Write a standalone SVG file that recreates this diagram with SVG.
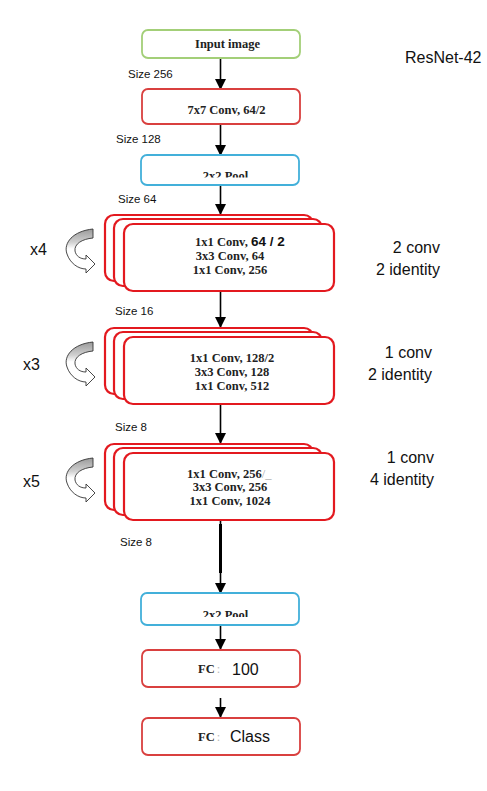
<svg xmlns="http://www.w3.org/2000/svg" width="487" height="791" viewBox="0 0 487 791">
<style>
.box{fill:#fff;stroke-width:1.8}
.red{stroke:#d9403f}
.bred{stroke:#e3191f;stroke-width:2.2}
.green{stroke:#a3cf78}
.blue{stroke:#43b0da}
.bt{font-family:"Liberation Serif","Times New Roman",serif;font-weight:bold;font-size:12.5px;fill:#222}
.st{font-family:"Liberation Sans",Arial,sans-serif;font-size:11.5px;fill:#111}
.lt{font-family:"Liberation Sans",Arial,sans-serif;font-size:16px;fill:#111}
.conn{stroke:#000;stroke-width:1.6;fill:none}
.icon{stroke:#333;stroke-width:0.9;fill:url(#g)}
</style>
<defs>
<marker id="ah" markerUnits="userSpaceOnUse" markerWidth="11" markerHeight="11" refX="10" refY="5.5" orient="auto">
<path d="M0,0 L11,5.5 L0,11 z" fill="#000"/>
</marker>
<linearGradient id="g" x1="0" y1="0" x2="0" y2="1">
<stop offset="0" stop-color="#9a9a9a"/>
<stop offset="0.3" stop-color="#d0d0d0"/>
<stop offset="0.45" stop-color="#ffffff"/>
<stop offset="1" stop-color="#ffffff"/>
</linearGradient>
<clipPath id="c1"><rect x="140" y="150" width="160" height="27.5"/></clipPath>
<clipPath id="c2"><rect x="140" y="590" width="160" height="27"/></clipPath>
<g id="stack">
<rect class="box bred" x="105" y="0" width="208" height="66" rx="9"/>
<rect class="box bred" x="114" y="4" width="208" height="67" rx="9"/>
<rect class="box bred" x="124" y="9" width="210" height="67" rx="9"/>
</g>
<path id="curl" d="M93 229 C73 231,63 243,67 254 C70 263,78 269,86 269 L86 273 L95 264 L86 255 L86 259 C80 259,76 256,75 251 C74 244,82 239,93 238 Z"/>
</defs>

<g id="connectors">
<line class="conn" x1="220.5" y1="58" x2="220.5" y2="89" marker-end="url(#ah)"/>
<line class="conn" x1="220.5" y1="124" x2="220.5" y2="155" marker-end="url(#ah)"/>
<line class="conn" x1="220.5" y1="185" x2="220.5" y2="214" marker-end="url(#ah)"/>
<line class="conn" x1="220.5" y1="291" x2="220.5" y2="327" marker-end="url(#ah)"/>
<line class="conn" x1="220.5" y1="405" x2="220.5" y2="443" marker-end="url(#ah)"/>
<line class="conn" x1="220.5" y1="519" x2="220.5" y2="593" marker-end="url(#ah)"/>
<line x1="220.5" y1="524" x2="220.5" y2="573" stroke="#000" stroke-width="3"/>
<line class="conn" x1="220.5" y1="625" x2="220.5" y2="649" marker-end="url(#ah)"/>
<line class="conn" x1="220.5" y1="698" x2="220.5" y2="717" marker-end="url(#ah)"/>
</g>

<g id="input">
<rect class="box green" x="142" y="30" width="158" height="28" rx="6"/>
<text class="bt" x="227.5" y="48" text-anchor="middle">Input image</text>
</g>
<g id="conv7">
<rect class="box red" x="142" y="89" width="158" height="35" rx="6"/>
<text class="bt" x="226.5" y="114" text-anchor="middle">7x7 Conv, 64/2</text>
</g>
<g id="pool1">
<rect class="box blue" x="141" y="155" width="158" height="30" rx="6"/>
<text class="bt" x="225.5" y="180" text-anchor="middle" clip-path="url(#c1)">2x2 Pool</text>
</g>

<g id="block1">
<use href="#stack" x="0" y="215"/>
<use href="#curl" class="icon"/>
<text class="bt" x="195" y="246"><tspan>1x1 Conv, </tspan><tspan font-family="Liberation Sans,Arial,sans-serif" font-size="13.5px" fill="#111">64 / 2</tspan></text>
<text class="bt" x="230" y="260" text-anchor="middle">3x3 Conv, 64</text>
<text class="bt" x="230" y="274" text-anchor="middle">1x1 Conv, 256</text>
</g>
<g id="block2">
<use href="#stack" x="0" y="328"/>
<use href="#curl" class="icon" transform="translate(0,113)"/>
<text class="bt" x="232" y="362" text-anchor="middle">1x1 Conv, 128/2</text>
<text class="bt" x="232" y="376" text-anchor="middle">3x3 Conv, 128</text>
<text class="bt" x="232" y="390" text-anchor="middle">1x1 Conv, 512</text>
</g>
<g id="block3">
<use href="#stack" x="0" y="444"/>
<use href="#curl" class="icon" transform="translate(0,229)"/>
<text class="bt" x="187" y="478">1x1 Conv, 256<tspan fill="#aaa" font-weight="normal">/_</tspan></text>
<text class="bt" x="230" y="491" text-anchor="middle">3x3 Conv, 256</text>
<text class="bt" x="230" y="505" text-anchor="middle">1x1 Conv, 1024</text>
</g>

<g id="pool2">
<rect class="box blue" x="141" y="593" width="158" height="32" rx="6"/>
<text class="bt" x="225.5" y="619" text-anchor="middle" clip-path="url(#c2)">2x2 Pool</text>
</g>
<g id="fc1">
<rect class="box red" x="142" y="650" width="158" height="37" rx="6"/>
<text class="bt" x="198" y="673" font-size="10.5px">FC<tspan fill="#bbb" font-weight="normal" dx="2">:</tspan></text>
<text class="lt" x="232" y="675" font-size="17px">100</text>
</g>
<g id="fc2">
<rect class="box red" x="142" y="718" width="158" height="37" rx="6"/>
<text class="bt" x="198" y="741" font-size="10.5px">FC<tspan fill="#bbb" font-weight="normal" dx="2">:</tspan></text>
<text class="lt" x="230" y="742" font-size="17px">Class</text>
</g>

<g id="labels">
<text class="st" x="128" y="78">Size 256</text>
<text class="st" x="116" y="143">Size 128</text>
<text class="st" x="118" y="203">Size 64</text>
<text class="st" x="115" y="315">Size 16</text>
<text class="st" x="115" y="431">Size 8</text>
<text class="st" x="120" y="546">Size 8</text>
<text class="lt" x="405" y="63">ResNet-42</text>
<text class="lt" x="30" y="255">x4</text>
<text class="lt" x="23" y="370">x3</text>
<text class="lt" x="23" y="487">x5</text>
<text class="lt" x="440" y="253" text-anchor="end">2 conv</text>
<text class="lt" x="440" y="275" text-anchor="end">2 identity</text>
<text class="lt" x="432" y="358" text-anchor="end">1 conv</text>
<text class="lt" x="432" y="380" text-anchor="end">2 identity</text>
<text class="lt" x="434" y="463" text-anchor="end">1 conv</text>
<text class="lt" x="434" y="485" text-anchor="end">4 identity</text>
</g>
</svg>
